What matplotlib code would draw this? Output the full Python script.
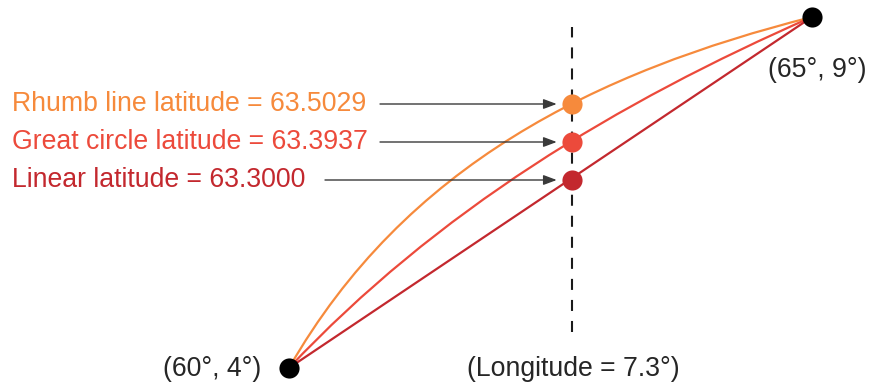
import numpy as np
import matplotlib
matplotlib.use("Agg")
import matplotlib.pyplot as plt
from matplotlib.patches import PathPatch
from matplotlib.path import Path
from matplotlib.transforms import IdentityTransform

# Datos del esquema
lon_ini, lat_ini = 4.0, 60.0
lon_fin, lat_fin = 9.0, 65.0
lon_corte = 7.3
metodos = ["Rhumb line", "Great circle", "Linear"]
latitudes = [63.5029, 63.3937, 63.3000]
colores = ["#F68A3C", "#EC4A3B", "#C3282E"]

# Diagrama esquematico: escala no lineal (posicion en pixeles)
esc_lon = ([4.0, 7.3, 9.0], [289, 572, 812])
esc_lat = ([60.0, 63.3, 63.3937, 63.5029, 65.0], [20, 208, 246, 284, 371])
# forma de cada curva: puntos de control (a lo largo, normal) como fraccion de la cuerda
forma = {"Rhumb line": [(1 / 3, 0.165), (2 / 3, 0.119)],
         "Great circle": [(1 / 3, 0.076), (2 / 3, 0.060)],
         "Linear": [(1 / 3, 0.0), (2 / 3, 0.0)]}
flecha_desde = {"Rhumb line": -192, "Great circle": -192, "Linear": -247}


def tramos(xp, fp):
    xp = np.asarray(xp, float)
    fp = np.asarray(fp, float)

    def f(v):
        v = np.asarray(v, float)
        out = np.interp(v, xp, fp)
        m0 = (fp[1] - fp[0]) / (xp[1] - xp[0])
        m1 = (fp[-1] - fp[-2]) / (xp[-1] - xp[-2])
        out = np.where(v < xp[0], fp[0] + (v - xp[0]) * m0, out)
        out = np.where(v > xp[-1], fp[-1] + (v - xp[-1]) * m1, out)
        return out
    return f


plt.rcParams["font.family"] = ["Liberation Sans", "DejaVu Sans"]
gris = "#262626"
fs = 19.2

fx, ix = tramos(*esc_lon), tramos(esc_lon[1], esc_lon[0])
fy, iy = tramos(*esc_lat), tramos(esc_lat[1], esc_lat[0])

fig = plt.figure(figsize=(8.72, 3.88), dpi=100)
ax = fig.add_axes([0, 0, 1, 1])
ax.set_xscale("function", functions=(fx, ix))
ax.set_yscale("function", functions=(fy, iy))
ax.set_xlim(float(ix(0)), float(ix(872)))
ax.set_ylim(float(iy(0)), float(iy(388)))
ax.axis("off")

# Linea vertical de longitud
ax.axvline(lon_corte, ymin=56 / 388, ymax=361 / 388, color="#1a1a1a", lw=1.5,
           ls=(0, (5.3, 4.8)), zorder=1)

# Curvas entre extremos: bezier cubica en coordenadas de pantalla
pA = ax.transData.transform((lon_ini, lat_ini))
pB = ax.transData.transform((lon_fin, lat_fin))
d = pB - pA
normal = np.array([-d[1], d[0]])
for metodo, color in zip(metodos, colores):
    (a1, n1), (a2, n2) = forma[metodo]
    c1 = pA + a1 * d + n1 * normal
    c2 = pA + a2 * d + n2 * normal
    camino = Path([pA, c1, c2, pB],
                  [Path.MOVETO, Path.CURVE4, Path.CURVE4, Path.CURVE4])
    ax.add_artist(PathPatch(camino, transform=IdentityTransform(), fc="none",
                            ec=color, lw=1.6, zorder=2))

# Puntos en la longitud de corte, flechas y etiquetas
trans_txt = ax.get_yaxis_transform()
for metodo, lat, color in zip(metodos, latitudes, colores):
    ax.plot(lon_corte, lat, "o", color=color, ms=14.5, mec="none", zorder=4)
    ax.annotate("", xy=(lon_corte, lat),
                xytext=(flecha_desde[metodo], 0), textcoords="offset pixels",
                arrowprops=dict(arrowstyle="-|>,head_length=0.8,head_width=0.3",
                                color="#3a3a3a", lw=1.0, shrinkA=0, shrinkB=11),
                zorder=3)
    ax.text(12 / 872, lat, "%s latitude = %.4f" % (metodo, lat), color=color,
            fontsize=fs, ha="left", va="center", transform=trans_txt)

# Extremos
ax.plot([lon_ini, lon_fin], [lat_ini, lat_fin], "o", color="black", ms=14.5,
        mec="none", zorder=5)
ax.annotate("(%d°, %d°)" % (lat_ini, lon_ini), (lon_ini, lat_ini),
            xytext=(-28, -1), textcoords="offset pixels",
            ha="right", va="center", fontsize=fs, color=gris)
ax.annotate("(%d°, %d°)" % (lat_fin, lon_fin), (lon_fin, lat_fin),
            xytext=(5, -53), textcoords="offset pixels",
            ha="center", va="center", fontsize=fs, color=gris)
ax.annotate("(Longitude = %.1f°)" % lon_corte, (lon_corte, lat_ini),
            xytext=(1, -1), textcoords="offset pixels",
            ha="center", va="center", fontsize=fs, color=gris)

fig.savefig("out.png", dpi=100)
